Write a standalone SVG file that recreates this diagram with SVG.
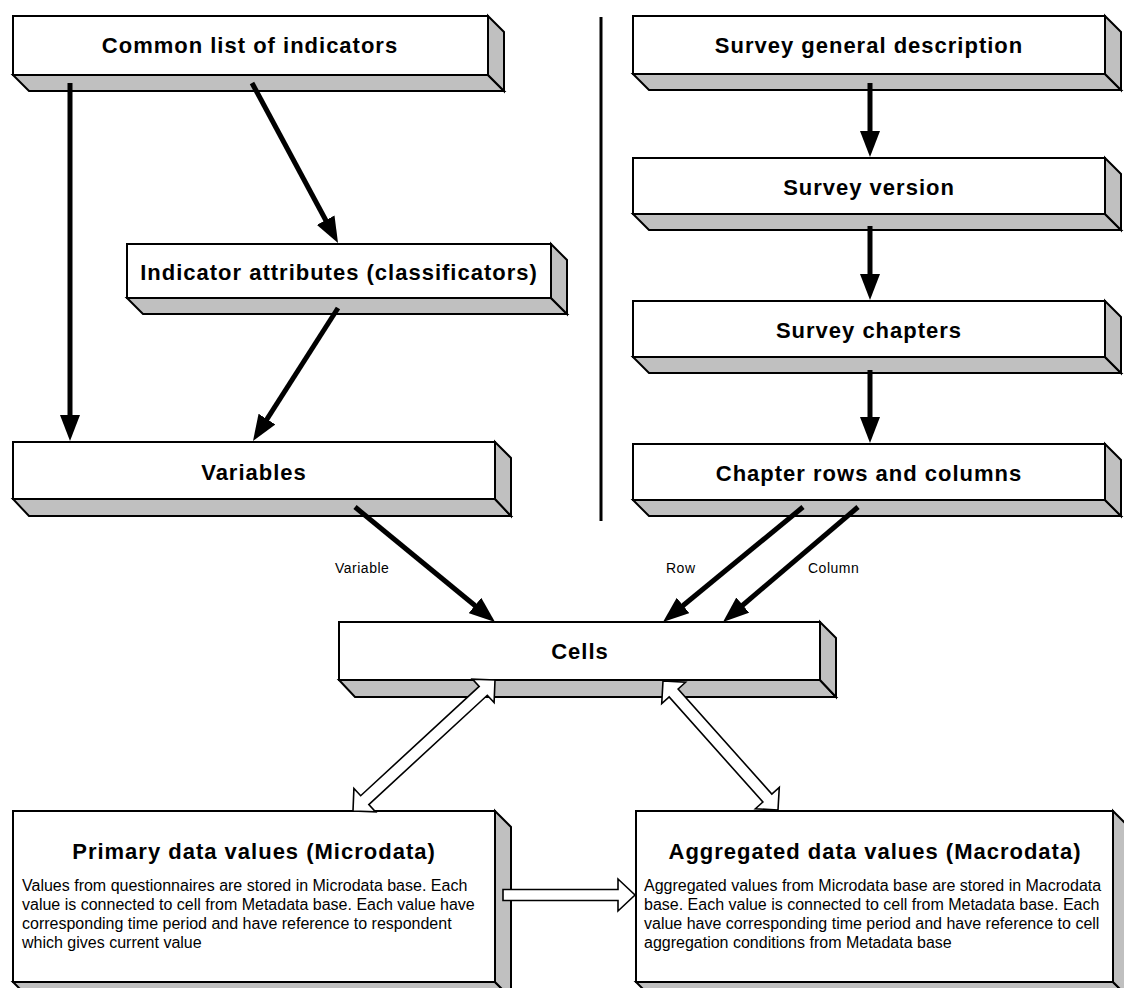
<svg xmlns="http://www.w3.org/2000/svg" width="1124" height="988" viewBox="0 0 1124 988">
<style>
.front{fill:#fff;stroke:#000;stroke-width:2}
.side{fill:#c0c0c0;stroke:#000;stroke-width:2;stroke-linejoin:miter}
.title{font-family:"Liberation Sans",Arial,sans-serif;font-weight:bold;font-size:22px;letter-spacing:1px;text-anchor:middle;fill:#000}
.body{font-family:"Liberation Sans",Arial,sans-serif;font-size:16px;fill:#000}
.lbl{font-family:"Liberation Sans",Arial,sans-serif;font-size:14px;letter-spacing:0.5px;fill:#000}
.arr{stroke:#000;stroke-width:5;fill:none;marker-end:url(#head)}
.hollow{fill:#fff;stroke:#000;stroke-width:1.6;stroke-linejoin:miter}
</style>
<defs>
<marker id="head" markerUnits="userSpaceOnUse" markerWidth="26" markerHeight="20" refX="11" refY="10" orient="auto" viewBox="0 0 26 20">
<path d="M0,0 L26,10 L0,20 z" fill="#000"/>
</marker>
</defs>
<rect width="1124" height="988" fill="#fff"/>

<g id="node-common">
<polygon class="side" points="13,75 488,75 504,91 29,91"/>
<polygon class="side" points="488,16 504,32 504,91 488,75"/>
<rect class="front" x="13" y="16" width="475" height="59"/>
<text class="title" x="250" y="53">Common list of indicators</text>
</g>

<g id="node-indicator-attributes">
<polygon class="side" points="127,298 551,298 567,314 143,314"/>
<polygon class="side" points="551,244 567,260 567,314 551,298"/>
<rect class="front" x="127" y="244" width="424" height="54"/>
<text class="title" x="339" y="280">Indicator attributes (classificators)</text>
</g>

<g id="node-variables">
<polygon class="side" points="13,499 495,499 511,516 29,516"/>
<polygon class="side" points="495,442 511,458 511,516 495,499"/>
<rect class="front" x="13" y="442" width="482" height="57"/>
<text class="title" x="254" y="480">Variables</text>
</g>

<g id="node-survey-general">
<polygon class="side" points="633,74 1105,74 1121,90 649,90"/>
<polygon class="side" points="1105,16 1121,32 1121,90 1105,74"/>
<rect class="front" x="633" y="16" width="472" height="58"/>
<text class="title" x="869" y="53">Survey general description</text>
</g>

<g id="node-survey-version">
<polygon class="side" points="633,214 1105,214 1121,230 649,230"/>
<polygon class="side" points="1105,158 1121,174 1121,230 1105,214"/>
<rect class="front" x="633" y="158" width="472" height="56"/>
<text class="title" x="869" y="195">Survey version</text>
</g>

<g id="node-survey-chapters">
<polygon class="side" points="633,357 1105,357 1121,373 649,373"/>
<polygon class="side" points="1105,301 1121,317 1121,373 1105,357"/>
<rect class="front" x="633" y="301" width="472" height="56"/>
<text class="title" x="869" y="338">Survey chapters</text>
</g>

<g id="node-chapter-rows">
<polygon class="side" points="633,500 1105,500 1121,516 649,516"/>
<polygon class="side" points="1105,444 1121,460 1121,516 1105,500"/>
<rect class="front" x="633" y="444" width="472" height="56"/>
<text class="title" x="869" y="481">Chapter rows and columns</text>
</g>

<g id="node-cells">
<polygon class="side" points="339,680 820,680 836,697 355,697"/>
<polygon class="side" points="820,622 836,638 836,697 820,680"/>
<rect class="front" x="339" y="622" width="481" height="58"/>
<text class="title" x="580" y="659">Cells</text>
</g>

<g id="node-primary">
<polygon class="side" points="13,982 495,982 511,998 29,998"/>
<polygon class="side" points="495,811 511,827 511,998 495,982"/>
<rect class="front" x="13" y="811" width="482" height="171"/>
<text class="title" x="254" y="859">Primary data values (Microdata)</text>
<text class="body" x="22" y="891">Values from questionnaires are stored in Microdata base. Each</text>
<text class="body" x="22" y="910">value is connected to cell from Metadata base. Each value have</text>
<text class="body" x="22" y="929">corresponding time period and have reference to respondent</text>
<text class="body" x="22" y="948">which gives current value</text>
</g>

<g id="node-aggregated">
<polygon class="side" points="636,982 1113,982 1129,998 652,998"/>
<polygon class="side" points="1113,811 1129,827 1129,998 1113,982"/>
<rect class="front" x="636" y="811" width="477" height="171"/>
<text class="title" x="875" y="859">Aggregated data values (Macrodata)</text>
<text class="body" x="644" y="891">Aggregated values from Microdata base are stored in Macrodata</text>
<text class="body" x="644" y="910">base. Each value is connected to cell from Metadata base. Each</text>
<text class="body" x="644" y="929">value have corresponding time period and have reference to cell</text>
<text class="body" x="644" y="948">aggregation conditions from Metadata base</text>
</g>

<g id="connectors">
<line x1="601" y1="17" x2="601" y2="521" stroke="#000" stroke-width="3"/>
<line class="arr" x1="70" y1="83" x2="70" y2="426"/>
<line class="arr" x1="252" y1="83" x2="330.9" y2="229.8"/>
<line class="arr" x1="338" y1="308" x2="261.08" y2="428.36"/>
<line class="arr" x1="355" y1="507" x2="483.41" y2="612.48"/>
<line class="arr" x1="870" y1="83" x2="870" y2="142"/>
<line class="arr" x1="870" y1="226" x2="870" y2="285"/>
<line class="arr" x1="870" y1="370" x2="870" y2="428"/>
<line class="arr" x1="803" y1="507" x2="674.59" y2="612.48"/>
<line class="arr" x1="858" y1="507" x2="734.42" y2="612.27"/>
<text class="lbl" x="335" y="573">Variable</text>
<text class="lbl" x="666" y="573">Row</text>
<text class="lbl" x="808" y="573">Column</text>
<polygon class="hollow" points="495,680 494.1,702.6 487.31,695.26 368.83,804.56 375.61,811.91 353,811 353.91,788.39 360.69,795.74 479.17,686.44 472.4,679.1"/>
<polygon class="hollow" points="663,681 661.71,703.59 669.17,696.93 762.87,802.05 755.41,808.71 778,810 779.29,787.41 771.83,794.07 678.13,688.95 685.59,682.29"/>
<polygon class="hollow" points="503,889.5 618,889.5 618,879 635,895 618,911 618,900.5 503,900.5"/>
</g>
</svg>
